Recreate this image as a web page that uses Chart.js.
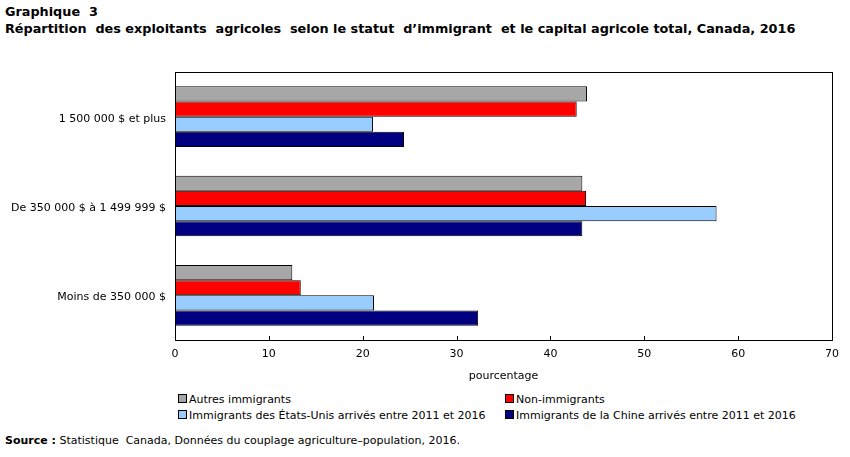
<!DOCTYPE html>
<html lang="fr">
<head>
<meta charset="utf-8">
<script src="https://cdn.jsdelivr.net/npm/chart.js@4.4.1/dist/chart.umd.min.js"></script>
<style>
  body { margin: 0; background: #fff; font-family: "DejaVu Sans", Verdana, sans-serif; color: #000; }
  #page { position: relative; width: 850px; height: 457px; overflow: hidden; }
  .titre { position: absolute; left: 5px; font-weight: bold; font-size: 12.8px; white-space: pre; }
  #graph { position: absolute; left: 0; top: 0; }
  #legende { position: absolute; left: 178px; top: 393px; font-size: 11px; }
  .item { position: absolute; white-space: pre; }
  .carre { display: inline-block; width: 7px; height: 7px; border: 1px solid #000; margin-right: 2px; vertical-align: 0px; }
  #source { position: absolute; left: 5px; top: 434px; font-size: 11px; white-space: pre; }
</style>
</head>
<body>
<div id="page">
  <div class="titre" style="top:4px">Graphique  3</div>
  <div class="titre" style="top:21px">Répartition  des exploitants  agricoles  selon le statut  d’immigrant  et le capital agricole total, Canada, 2016</div>
  <canvas id="graph" width="850" height="390"></canvas>
  <div id="legende"></div>
  <div id="source"><b>Source :</b> Statistique  Canada, Données du couplage agriculture–population, 2016.</div>
</div>
<script>
// Catégories (capital agricole total)
const categories = ["1 500 000 $ et plus", "De 350 000 $ à 1 499 999 $", "Moins de 350 000 $"];

// Séries (pourcentage)
const autresImmigrants = [43.9, 43.4, 12.5];
const nonImmigrants = [42.8, 43.8, 13.4];
const immigrantsEtatsUnis = [21.1, 57.7, 21.2];
const immigrantsChine = [24.4, 43.4, 32.3];

const nomsSeries = [
  "Autres immigrants",
  "Non-immigrants",
  "Immigrants des États-Unis arrivés entre 2011 et 2016",
  "Immigrants de la Chine arrivés entre 2011 et 2016"
];

// Graduations de l'axe
const graduations = [0, 10, 20, 30, 40, 50, 60, 70];

// Motif tramé léger pour la série grise
function motifGris() {
  const c = document.createElement("canvas");
  c.width = 2;
  c.height = 2;
  const ctx = c.getContext("2d");
  ctx.fillStyle = "#a3a3a3";
  ctx.fillRect(0, 0, 2, 2);
  ctx.fillStyle = "#ababab";
  ctx.fillRect(0, 0, 1, 1);
  ctx.fillRect(1, 1, 1, 1);
  return ctx.createPattern(c, "repeat");
}

const couleurs = [motifGris(), "#ff0000", "#99ccff", "#000080"];
const couleursLegende = ["#a6a6a6", "#ff0000", "#99ccff", "#000080"];
const valeurs = [autresImmigrants, nonImmigrants, immigrantsEtatsUnis, immigrantsChine];

// Cadre + petites graduations vers l'intérieur
const cadre = {
  id: "cadre",
  afterDraw(chart) {
    const { ctx, chartArea } = chart;
    const x = chart.scales.x;
    ctx.save();
    ctx.strokeStyle = "#000";
    ctx.lineWidth = 1;
    ctx.strokeRect(Math.round(chartArea.left) + 0.5, Math.round(chartArea.top) + 0.5,
      Math.round(chartArea.right - chartArea.left), Math.round(chartArea.bottom - chartArea.top));
    graduations.forEach((g) => {
      const px = Math.round(x.getPixelForValue(g)) + 0.5;
      ctx.beginPath();
      ctx.moveTo(px, chartArea.bottom);
      ctx.lineTo(px, chartArea.bottom - 4);
      ctx.stroke();
    });
    ctx.restore();
  }
};

Chart.defaults.font.family = "'DejaVu Sans', Verdana, sans-serif";
Chart.defaults.font.size = 11;
Chart.defaults.color = "#000";

new Chart(document.getElementById("graph"), {
  type: "bar",
  data: {
    labels: categories,
    datasets: valeurs.map((v, i) => ({
      label: nomsSeries[i],
      data: v,
      backgroundColor: couleurs[i],
      borderColor: "#000",
      borderWidth: 1,
      categoryPercentage: 0.68,
      barPercentage: 1.0
    }))
  },
  options: {
    indexAxis: "y",
    responsive: false,
    animation: false,
    devicePixelRatio: 1,
    layout: { padding: { top: 72, right: 18, left: 0, bottom: 0 } },
    plugins: {
      legend: { display: false },
      tooltip: { enabled: false }
    },
    scales: {
      x: {
        min: 0,
        max: 70,
        afterBuildTicks: (axis) => { axis.ticks = graduations.map((g) => ({ value: g })); },
        grid: { display: false, drawTicks: false },
        border: { display: false },
        ticks: { padding: 8, maxRotation: 0 },
        title: { display: true, text: "pourcentage", padding: { top: 4, bottom: 7 } },
        afterFit: (axis) => { axis.height = 50; }
      },
      y: {
        grid: { display: false, drawTicks: false },
        border: { display: false },
        ticks: { padding: 9, labelOffset: 2 },
        afterFit: (axis) => { axis.width = 175; }
      }
    }
  },
  plugins: [cadre]
});

// Légende en deux colonnes
const legende = document.getElementById("legende");
nomsSeries.forEach((nom, i) => {
  const item = document.createElement("div");
  item.classList.add("item");
  item.style.left = (i % 2 === 0 ? 0 : 327) + "px";
  item.style.top = (Math.floor(i / 2) * 16) + "px";
  const carre = document.createElement("span");
  carre.classList.add("carre");
  carre.style.background = couleursLegende[i];
  item.appendChild(carre);
  item.appendChild(document.createTextNode(nom));
  legende.appendChild(item);
});
</script>
</body>
</html>
